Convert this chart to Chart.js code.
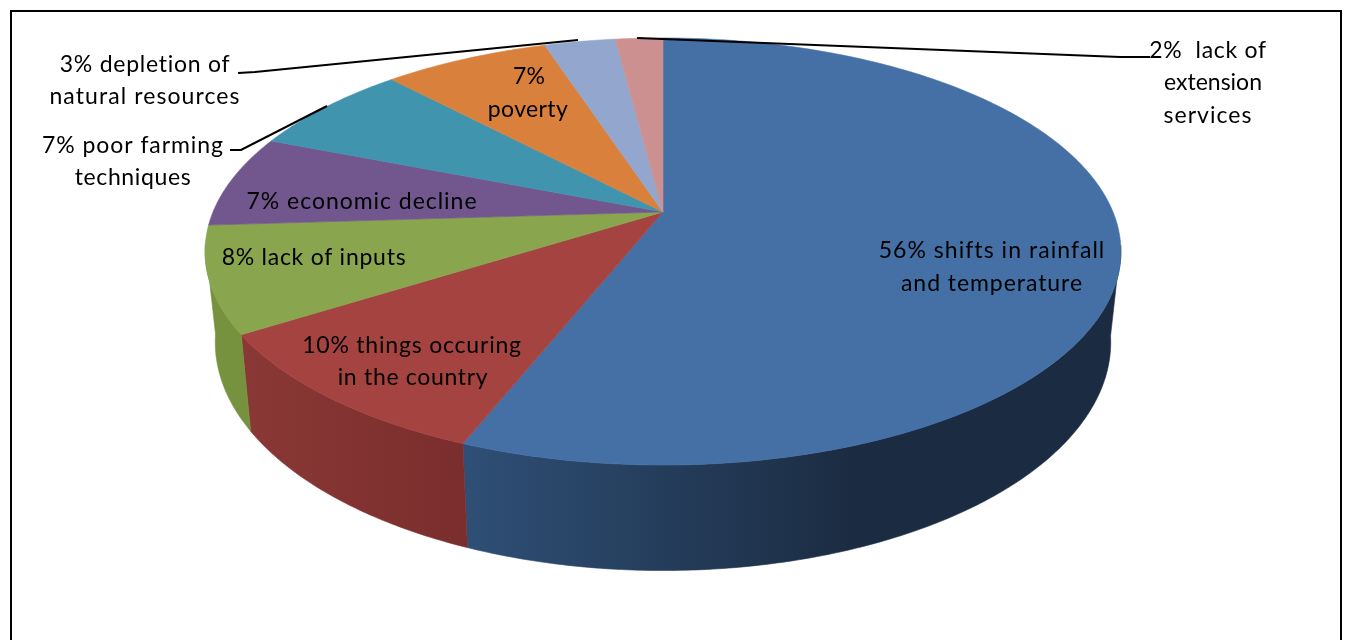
<!DOCTYPE html>
<html>
<head>
<meta charset="utf-8">
<style>
    html, body { margin: 0; padding: 0; background: #fff; }
    #wrap { width: 1348px; height: 640px; }
</style>
</head>
<body>
<div id="wrap"><canvas id="pie"></canvas></div>
<script src="https://cdn.jsdelivr.net/npm/chart.js@4"></script>
<script>
const categories = [
    'shifts in rainfall and temperature',
    'things occuring in the country',
    'lack of inputs',
    'economic decline',
    'poor farming techniques',
    'poverty',
    'depletion of natural resources',
    'lack of extension services'
];
const shares = [56, 10, 8, 7, 7, 7, 3, 2];
const labelTexts = [
    '56% shifts in rainfall', 'and temperature',
    '10% things occuring', 'in the country',
    '8% lack of inputs',
    '7% economic decline',
    '7% poor farming', 'techniques',
    '7%', 'poverty',
    '3% depletion of', 'natural resources',
    '2%  lack of', 'extension', 'services'
];

const topColors = ['#4570a6', '#a54341', '#89a54e', '#72578f', '#4094ae', '#d9813c', '#92a6ce', '#cd9090'];
// side shade at the left and right end of each slice
const wallColors = [
    ['#2f4f76', '#1b2c42'],
    ['#8a3835', '#7a2e2d'],
    ['#76923f', '#76923f'],
    ['#5c4673', '#5c4673'],
    ['#32768c', '#32768c'],
    ['#af6830', '#af6830'],
    ['#7686a6', '#7686a6'],
    ['#a57474', '#a57474']
];
// centre x, centre y and width of each label line, same order as labelTexts
const labelPlaces = [
    [992, 251, 225], [992, 284, 181],
    [412, 346, 219], [413, 378, 150],
    [314, 258, 184],
    [362, 202, 230],
    [133, 146, 181], [133, 178, 116],
    [529, 77, 32], [528, 110, 80],
    [145, 65, 170], [145, 97, 190],
    [1208, 51, 117], [1213, 83, 98], [1208, 116, 88]
];
const leaderLines = [
    [[238, 73], [255, 72], [578, 40]],
    [[230, 150], [241, 150], [327, 106]],
    [[1150, 57], [1120, 57], [637, 38]]
];

// perspective of the disc, the unit circle goes in and pixels come out
const centerX = 663;
const tilt = -0.185;
const topFace = { spreadX: 450, spreadY: 167, baseY: 212 };
const bottomFace = { spreadX: 440, spreadY: 165, baseY: 300 };
// the side only shows below this sine, further back the top face covers it
const wallStart = 0.15;

function project(face, angle) {
    const ux = Math.cos(angle);
    const uy = Math.sin(angle);
    const w = 1 + tilt * uy;
    return {
        x: centerX + face.spreadX * ux / w,
        y: (face.spreadY * uy + face.baseY) / w
    };
}

function arcSteps(start, end) {
    const count = Math.max(2, Math.ceil((end - start) / 0.01));
    const steps = [];
    for (let i = 0; i <= count; i++) {
        steps.push(start + (end - start) * i / count);
    }
    return steps;
}

function tracePath(ctx, points) {
    ctx.beginPath();
    points.forEach((p, i) => i ? ctx.lineTo(p.x, p.y) : ctx.moveTo(p.x, p.y));
    ctx.closePath();
}

function drawWalls(ctx, arcs) {
    arcs.forEach((arc, index) => {
        const steps = arcSteps(arc.startAngle, arc.endAngle).filter(a => Math.sin(a) > wallStart);
        if (steps.length < 2) {
            return;
        }
        const upper = steps.map(a => project(topFace, a));
        const lower = steps.map(a => project(bottomFace, a)).reverse();
        const xs = upper.map(p => p.x);
        const minX = Math.min(...xs);
        const maxX = Math.min(Math.max(...xs), minX + 390);
        const shade = ctx.createLinearGradient(minX, 0, maxX, 0);
        shade.addColorStop(0, wallColors[index][0]);
        shade.addColorStop(1, wallColors[index][1]);
        tracePath(ctx, upper.concat(lower));
        ctx.fillStyle = shade;
        ctx.strokeStyle = shade;
        ctx.lineWidth = 0.6;
        ctx.fill();
        ctx.stroke();
    });
}

function drawTop(ctx, arcs) {
    const apex = { x: centerX, y: topFace.baseY };
    arcs.forEach((arc, index) => {
        const rim = arcSteps(arc.startAngle, arc.endAngle).map(a => project(topFace, a));
        tracePath(ctx, [apex].concat(rim));
        ctx.fillStyle = topColors[index];
        ctx.strokeStyle = topColors[index];
        ctx.lineWidth = 0.6;
        ctx.fill();
        ctx.stroke();
    });
}

const disc3d = {
    id: 'disc3d',
    beforeDraw(chart) {
        const ctx = chart.ctx;
        ctx.save();
        ctx.fillStyle = '#fff';
        ctx.fillRect(0, 0, chart.width, chart.height);
        ctx.strokeStyle = '#000';
        ctx.lineWidth = 2;
        ctx.beginPath();
        ctx.moveTo(11, 642);
        ctx.lineTo(11, 11);
        ctx.lineTo(1341, 11);
        ctx.lineTo(1341, 642);
        ctx.stroke();
        ctx.restore();
    },
    // slices get their angles from the pie controller, only the painting is replaced
    beforeDatasetDraw(chart, args) {
        const ctx = chart.ctx;
        const arcs = args.meta.data;
        ctx.save();
        drawWalls(ctx, arcs);
        drawTop(ctx, arcs);
        ctx.restore();
        return false;
    },
    afterDraw(chart) {
        const ctx = chart.ctx;
        ctx.save();
        ctx.strokeStyle = '#000';
        ctx.lineWidth = 2.2;
        leaderLines.forEach(line => {
            ctx.beginPath();
            line.forEach((p, i) => i ? ctx.lineTo(p[0], p[1]) : ctx.moveTo(p[0], p[1]));
            ctx.stroke();
        });
        ctx.fillStyle = '#000';
        ctx.font = '23px Lato';
        ctx.textAlign = 'center';
        ctx.textBaseline = 'middle';
        labelTexts.forEach((text, i) => {
            const place = labelPlaces[i];
            // spread the letters so each line takes up its width
            ctx.letterSpacing = '0px';
            const spare = place[2] - ctx.measureText(text).width;
            ctx.letterSpacing = (spare / Math.max(1, text.length - 1)).toFixed(2) + 'px';
            ctx.fillText(text, place[0], place[1]);
        });
        ctx.restore();
    }
};

new Chart(document.getElementById('pie'), {
    type: 'pie',
    data: {
        labels: categories,
        datasets: [{ data: shares, backgroundColor: topColors, borderWidth: 0 }]
    },
    options: {
        responsive: true,
        maintainAspectRatio: false,
        animation: false,
        plugins: {
            legend: { display: false },
            tooltip: { enabled: false }
        }
    },
    plugins: [disc3d]
});
</script>
</body>
</html>
